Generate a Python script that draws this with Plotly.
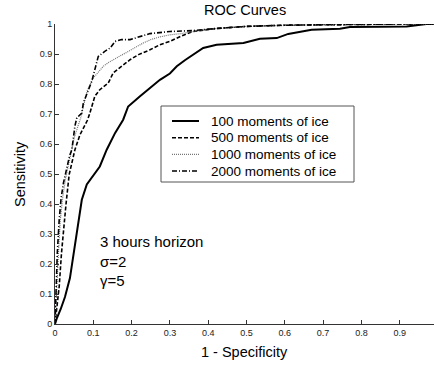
import plotly.graph_objects as go

# ---- data ----
x100 = [0, 0.005, 0.015, 0.026, 0.039, 0.05, 0.061, 0.07, 0.083, 0.1, 0.117, 0.135, 0.157,
        0.178, 0.191, 0.222, 0.248, 0.274, 0.3, 0.318, 0.34, 0.361, 0.387, 0.422, 0.46,
        0.492, 0.535, 0.579, 0.609, 0.64, 0.67, 0.744, 0.77, 0.85, 0.918, 0.97, 1.0]
y100 = [0, 0.02, 0.05, 0.09, 0.153, 0.25, 0.348, 0.414, 0.465, 0.495, 0.525, 0.581, 0.637,
        0.681, 0.725, 0.759, 0.787, 0.814, 0.835, 0.859, 0.88, 0.898, 0.92, 0.931, 0.934,
        0.937, 0.951, 0.953, 0.967, 0.975, 0.981, 0.984, 0.99, 0.991, 0.992, 1.0, 1.0]

x500 = [0, 0.006, 0.011, 0.017, 0.023, 0.029, 0.037, 0.045, 0.052, 0.065, 0.078, 0.085,
        0.091, 0.104, 0.117, 0.139, 0.152, 0.174, 0.196, 0.218, 0.248, 0.274, 0.3, 0.33,
        0.36, 0.42, 0.5, 0.6, 0.7, 0.8, 0.9, 1.0]
y500 = [0, 0.07, 0.125, 0.237, 0.33, 0.403, 0.498, 0.54, 0.581, 0.63, 0.66, 0.68,
        0.703, 0.759, 0.781, 0.803, 0.837, 0.859, 0.881, 0.898, 0.914, 0.931, 0.942, 0.96,
        0.975, 0.985, 0.992, 0.996, 0.998, 1.0, 1.0, 1.0]

x1000 = [0, 0.004, 0.009, 0.014, 0.02, 0.027, 0.035, 0.042, 0.05, 0.06, 0.068, 0.074,
         0.085, 0.1, 0.113, 0.126, 0.14, 0.161, 0.18, 0.196, 0.215, 0.231, 0.25, 0.274,
         0.3, 0.33, 0.36, 0.42, 0.5, 0.6, 0.7, 0.8, 0.9, 1.0]
y1000 = [0, 0.125, 0.237, 0.348, 0.42, 0.48, 0.53, 0.575, 0.62, 0.66, 0.69, 0.725,
         0.78, 0.82, 0.84, 0.859, 0.872, 0.887, 0.9, 0.914, 0.926, 0.937, 0.948, 0.957,
         0.964, 0.968, 0.975, 0.985, 0.992, 0.996, 0.998, 1.0, 1.0, 1.0]

x2000 = [0, 0.003, 0.006, 0.011, 0.016, 0.022, 0.03, 0.038, 0.044, 0.05, 0.052, 0.057,
         0.07, 0.074, 0.087, 0.096, 0.104, 0.113, 0.13, 0.144, 0.157, 0.174, 0.196, 0.222,
         0.248, 0.3, 0.36, 0.42, 0.5, 0.6, 0.7, 0.8, 0.9, 1.0]
y2000 = [0, 0.125, 0.237, 0.348, 0.42, 0.47, 0.52, 0.56, 0.581, 0.64, 0.66, 0.687,
         0.703, 0.737, 0.781, 0.809, 0.848, 0.892, 0.909, 0.92, 0.942, 0.948, 0.948, 0.959,
         0.968, 0.975, 0.978, 0.985, 0.992, 0.996, 0.998, 1.0, 1.0, 1.0]

names = ["100 moments of ice", "500 moments of ice", "1000 moments of ice", "2000 moments of ice"]
xtick_vals = [0, 0.1, 0.2, 0.3, 0.4, 0.5, 0.6, 0.7, 0.8, 0.9]
xtick_text = ["0", "0.1", "0.2", "0.3", "0.4", "0.5", "0.6", "0.7", "0.8", "0.9"]
ytick_vals = [0, 0.1, 0.2, 0.3, 0.4, 0.5, 0.6, 0.7, 0.8, 0.9, 1.0]
ytick_text = ["0", "0.1", "0.2", "0.3", "0.4", "0.5", "0.6", "0.7", "0.8", "0.9", "1"]

FONT = "Arial, Liberation Sans, sans-serif"

# figure geometry (pixels)
W, H = 434, 369
ML, MR, MT, MB = 55, 0, 24, 45
PW, PH = W - ML - MR, H - MT - MB


def px_to_paper(px, py):
    return (px - ML) / PW, (H - MB - py) / PH


styles = [
    dict(color="black", width=2, dash="solid"),
    dict(color="black", width=1.6, dash="4px,2px"),
    dict(color="#777777", width=1.2, dash="1px,1px"),
    dict(color="black", width=1.6, dash="5px,2px,1px,2px"),
]
xs_all = [x100, x500, x1000, x2000]
ys_all = [y100, y500, y1000, y2000]

fig = go.Figure()
for xs, ys, nm, ln in zip(xs_all, ys_all, names, styles):
    fig.add_trace(go.Scatter(x=xs, y=ys, mode="lines", name=nm, line=ln, showlegend=False))

axis_common = dict(
    showgrid=False, zeroline=False, showline=True, linecolor="#333333", linewidth=1,
    ticks="inside", ticklen=4, tickwidth=1, tickcolor="#333333",
    tickfont=dict(family=FONT, size=9, color="#222222"), mirror=False,
)
fig.update_xaxes(range=[0, 0.9896], tickvals=xtick_vals, ticktext=xtick_text, **axis_common)
fig.update_yaxes(range=[0, 1], tickvals=ytick_vals, ticktext=ytick_text, **axis_common)

# ---- hand-built legend box (matches reference spacing) ----
shapes = []
annotations = []
bx0, by0 = px_to_paper(161, 182)
bx1, by1 = px_to_paper(354, 106)
shapes.append(dict(type="rect", xref="paper", yref="paper", x0=bx0, y0=by0, x1=bx1, y1=by1,
                   line=dict(color="#555555", width=1), fillcolor="white", layer="above"))
row_y = [121, 137.7, 154.3, 171]
for nm, ln, ry in zip(names, styles, row_y):
    lx0, ly = px_to_paper(172, ry)
    lx1, _ = px_to_paper(199, ry)
    shapes.append(dict(type="line", xref="paper", yref="paper", x0=lx0, x1=lx1, y0=ly, y1=ly,
                       line=ln, layer="above"))
    tx, _ = px_to_paper(209, ry)
    annotations.append(dict(text=nm, xref="paper", yref="paper", x=tx, y=ly, showarrow=False,
                            xanchor="left", yanchor="middle",
                            font=dict(family=FONT, size=13.5, color="black")))

annotations += [
    dict(text="ROC Curves", xref="paper", yref="paper", x=0.5, y=1, yshift=14,
         showarrow=False, font=dict(size=14.5), xanchor="center", yanchor="middle"),
    dict(text="1 - Specificity", xref="paper", yref="paper", x=0.5, y=0, yshift=-28,
         showarrow=False, font=dict(size=14.5), xanchor="center", yanchor="middle"),
    dict(text="Sensitivity", xref="paper", yref="paper", x=0, y=0.5, xshift=-35,
         showarrow=False, font=dict(size=14.5), textangle=-90,
         xanchor="center", yanchor="middle"),
    dict(text="3 hours horizon<br>σ=2<br>γ=5", xref="paper", yref="paper",
         x=0, y=0, xshift=43, yshift=33, showarrow=False, align="left",
         font=dict(size=15), xanchor="left", yanchor="bottom"),
]

fig.update_layout(
    width=W, height=H,
    margin=dict(l=ML, r=MR, t=MT, b=MB),
    plot_bgcolor="white", paper_bgcolor="white",
    font=dict(family=FONT, color="black"),
    showlegend=False,
    shapes=shapes,
    annotations=annotations,
)

fig.write_html("out.html")
